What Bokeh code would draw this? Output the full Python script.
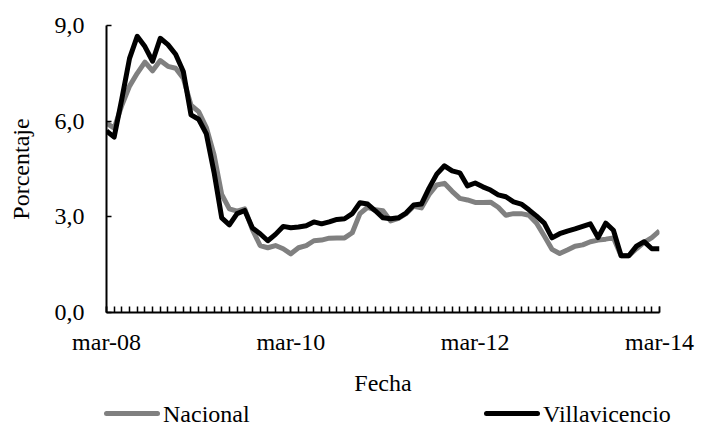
from bokeh.plotting import figure
from bokeh.layouts import column
from bokeh.models import Range1d, FixedTicker, ColumnDataSource, Div
from bokeh.embed import file_html
from bokeh.resources import INLINE

# ---- data ----
months = list(range(73))  # mar-08 .. mar-14
x_tick_pos = [0, 24, 48, 72]
x_tick_labels = ["mar-08", "mar-10", "mar-12", "mar-14"]
y_tick_pos = [0, 3, 6, 9]
y_tick_labels = ["0,0", "3,0", "6,0", "9,0"]
series_names = ["Nacional", "Villavicencio"]

nacional = [5.94, 5.78, 6.5, 7.1, 7.5, 7.85, 7.58, 7.9, 7.72, 7.66,
            7.35, 6.5, 6.3, 5.8, 4.95, 3.7, 3.25, 3.18, 3.25, 2.6,
            2.1, 2.03, 2.1, 2.0, 1.84, 2.03, 2.1, 2.25, 2.27, 2.33,
            2.34, 2.34, 2.5, 3.1, 3.3, 3.22, 3.19, 2.87, 2.95, 3.1,
            3.33, 3.28, 3.7, 4.0, 4.05, 3.8, 3.58, 3.53, 3.45, 3.45,
            3.46, 3.3, 3.05, 3.1, 3.1, 3.05, 2.8, 2.4, 1.98, 1.85,
            1.96, 2.08, 2.12, 2.22, 2.27, 2.3, 2.34, 1.78, 1.78, 2.0,
            2.2, 2.35, 2.56]

villavicencio = [5.69, 5.5, 6.7, 7.97, 8.66, 8.34, 7.88, 8.6, 8.4, 8.1,
                 7.56, 6.2, 6.06, 5.6, 4.4, 2.97, 2.75, 3.1, 3.2, 2.65,
                 2.47, 2.25, 2.45, 2.7, 2.66, 2.68, 2.72, 2.84, 2.78, 2.84,
                 2.92, 2.94, 3.1, 3.44, 3.4, 3.19, 2.97, 2.94, 2.97, 3.12,
                 3.37, 3.4, 3.9, 4.34, 4.6, 4.44, 4.38, 3.97, 4.06, 3.94,
                 3.84, 3.69, 3.63, 3.47, 3.4, 3.22, 3.02, 2.8, 2.34, 2.47,
                 2.55, 2.62, 2.7, 2.78, 2.35, 2.8, 2.58, 1.78, 1.78, 2.08,
                 2.22, 2.0, 2.0]

FONT = "Liberation Serif"
FS = "24px"
COLORS = ["#808080", "#000000"]

src = ColumnDataSource(dict(x=months, nac=nacional, vil=villavicencio))

p = figure(width=702, height=400,
           min_border_left=106, min_border_right=43,
           min_border_top=25, min_border_bottom=88,
           x_range=Range1d(0, 72), y_range=Range1d(0, 9),
           output_backend="svg", toolbar_location=None)

p.outline_line_color = None
p.xgrid.visible = False
p.ygrid.visible = False

p.line("x", "nac", source=src, line_color=COLORS[0], line_width=5, line_join="round")
p.line("x", "vil", source=src, line_color=COLORS[1], line_width=5, line_join="round")

# x axis
p.xaxis.ticker = FixedTicker(ticks=x_tick_pos, minor_ticks=months)
p.xaxis.major_label_overrides = {k: v for k, v in zip(x_tick_pos, x_tick_labels)}
p.xaxis.major_tick_in = 6
p.xaxis.major_tick_out = 0
p.xaxis.minor_tick_in = 6
p.xaxis.minor_tick_out = 0
p.xaxis.axis_label = "Fecha"

# y axis
p.yaxis.ticker = FixedTicker(ticks=y_tick_pos, minor_ticks=[])
p.yaxis.major_label_overrides = {k: v for k, v in zip(y_tick_pos, y_tick_labels)}
p.yaxis.major_tick_in = 5
p.yaxis.major_tick_out = 0
p.yaxis.minor_tick_in = 0
p.yaxis.minor_tick_out = 0
p.yaxis.axis_label = "Porcentaje"

for ax in (p.xaxis, p.yaxis):
    ax.axis_line_width = 2
    ax.axis_line_color = "black"
    ax.major_tick_line_width = 1.5
    ax.minor_tick_line_width = 1.5
    ax.major_tick_line_color = "black"
    ax.minor_tick_line_color = "black"
    ax.major_label_text_font = FONT
    ax.major_label_text_font_size = FS
    ax.major_label_text_color = "black"
    ax.axis_label_text_font = FONT
    ax.axis_label_text_font_size = FS
    ax.axis_label_text_font_style = "normal"
    ax.axis_label_text_color = "black"

p.xaxis.major_label_standoff = 16
p.xaxis.axis_label_standoff = 12
p.yaxis.major_label_standoff = 22
p.yaxis.axis_label_standoff = 18

# legend strip under the chart
item_left = [104, 484]
items_html = ""
for name, color, left in zip(series_names, COLORS, item_left):
    items_html += (
        f'<span style="position:absolute;left:{left}px;top:11px;width:56px;height:5px;'
        f'border-radius:3px;background:{color};"></span>'
        f'<span style="position:absolute;left:{left + 59}px;top:0px;">{name}</span>'
    )
legend_div = Div(
    text=(f'<div style="position:relative;width:702px;height:28px;'
          f'font-family:\'{FONT}\';font-size:{FS};line-height:28px;color:black;">'
          f'{items_html}</div>'),
    width=702, height=28, margin=(0, 0, 0, 0))

layout = column(p, legend_div, spacing=0)
open("out.html", "w").write(file_html(layout, INLINE))
